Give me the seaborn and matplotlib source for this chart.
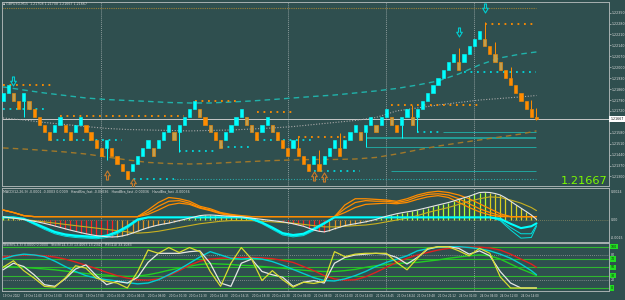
import numpy as np
import pandas as pd
import seaborn as sns
import matplotlib.pyplot as plt
from matplotlib.path import Path
from matplotlib.transforms import blended_transform_factory as blend

# ---------------- main chart: GBPUSD M15 renko bricks ----------------
bar_open = [1.21783, 1.21833, 1.21833, 1.21783, 1.21783, 1.21783, 1.21733, 1.21683, 1.21633, 1.21583,
            1.21583, 1.21633, 1.21633, 1.21583, 1.21583, 1.21633, 1.21633, 1.21583, 1.21533, 1.21483,
            1.21483, 1.21483, 1.21433, 1.21383, 1.21333, 1.21333, 1.21383, 1.21433, 1.21483, 1.21483,
            1.21483, 1.21533, 1.21583, 1.21583, 1.21583, 1.21633, 1.21683, 1.21733, 1.21733, 1.21683,
            1.21633, 1.21583, 1.21533, 1.21533, 1.21583, 1.21633, 1.21683, 1.21683, 1.21633, 1.21583,
            1.21583, 1.21633, 1.21633, 1.21583, 1.21533, 1.21483, 1.21483, 1.21483, 1.21433, 1.21383,
            1.21383, 1.21383, 1.21383, 1.21433, 1.21483, 1.21483, 1.21483, 1.21533, 1.21583, 1.21583,
            1.21583, 1.21633, 1.21633, 1.21633, 1.21683, 1.21683, 1.21633, 1.21633, 1.21683, 1.21683,
            1.21683, 1.21733, 1.21783, 1.21833, 1.21883, 1.21933, 1.21983, 1.22033, 1.22033, 1.22033,
            1.22083, 1.22133, 1.22183, 1.22183, 1.22133, 1.22083, 1.22033, 1.21983, 1.21933, 1.21883,
            1.21833, 1.21783, 1.21733, 1.21683]
bar_close = [1.21833, 1.21883, 1.21783, 1.21733, 1.21833, 1.21733, 1.21683, 1.21633, 1.21583, 1.21533,
             1.21633, 1.21683, 1.21583, 1.21533, 1.21633, 1.21683, 1.21583, 1.21533, 1.21483, 1.21433,
             1.21533, 1.21433, 1.21383, 1.21333, 1.21283, 1.21383, 1.21433, 1.21483, 1.21533, 1.21433,
             1.21533, 1.21583, 1.21633, 1.21533, 1.21633, 1.21683, 1.21733, 1.21783, 1.21683, 1.21633,
             1.21583, 1.21533, 1.21483, 1.21583, 1.21633, 1.21683, 1.21733, 1.21633, 1.21583, 1.21533,
             1.21633, 1.21683, 1.21583, 1.21533, 1.21483, 1.21433, 1.21533, 1.21433, 1.21383, 1.21333,
             1.21433, 1.21333, 1.21433, 1.21483, 1.21533, 1.21433, 1.21533, 1.21583, 1.21633, 1.21533,
             1.21633, 1.21683, 1.21583, 1.21683, 1.21733, 1.21633, 1.21583, 1.21683, 1.21733, 1.21633,
             1.21733, 1.21783, 1.21833, 1.21883, 1.21933, 1.21983, 1.22033, 1.22083, 1.21983, 1.22083,
             1.22133, 1.22183, 1.22233, 1.22133, 1.22083, 1.22033, 1.21983, 1.21933, 1.21883, 1.21833,
             1.21783, 1.21733, 1.21683, 1.21667]
mixed_bars = [2, 5, 29, 33, 38, 40, 42, 47, 48, 52, 69, 72, 75, 79, 88, 93, 95, 96]

up_wick_idx = [57, 61, 65, 79, 88, 93, 95, 98, 102, 103]
up_wick_px = [1.21553, 1.21470, 1.21579, 1.21758, 1.22122, 1.22290, 1.22162, 1.22002, 1.21790, 1.21739]
lo_wick_idx = [4, 20, 34, 70, 77, 80, 103]
lo_wick_px = [1.21681, 1.21406, 1.21457, 1.21489, 1.21546, 1.21585, 1.21660]

# moving averages, sampled every 4 bricks
ma_idx = list(range(0, 101, 4)) + [103]
ma_teal = [1.21874, 1.21854, 1.21835, 1.21819, 1.21803, 1.21793, 1.21787, 1.21781, 1.21774, 1.21771,
           1.21771, 1.21777, 1.21784, 1.21793, 1.21803, 1.21813, 1.21822, 1.21835, 1.21848, 1.21864,
           1.21886, 1.21912, 1.21957, 1.22015, 1.22060, 1.22085, 1.22098]
ma_grey = [1.21675, 1.21662, 1.21646, 1.21633, 1.21620, 1.21608, 1.21601, 1.21598, 1.21595, 1.21592,
           1.21595, 1.21598, 1.21604, 1.21611, 1.21620, 1.21633, 1.21646, 1.21659, 1.21678, 1.21720,
           1.21739, 1.21758, 1.21774, 1.21790, 1.21800, 1.21810, 1.21819]
ma_brown = [1.21483, 1.21476, 1.21467, 1.21457, 1.21444, 1.21425, 1.21406, 1.21390, 1.21383, 1.21380,
            1.21383, 1.21390, 1.21396, 1.21402, 1.21406, 1.21409, 1.21409, 1.21412, 1.21422, 1.21444,
            1.21470, 1.21495, 1.21515, 1.21534, 1.21553, 1.21572, 1.21592]

# resistance / support dots (level, first brick, last brick)
res_level = [1.21886, 1.21688, 1.21784, 1.21715, 1.21555, 1.21758, 1.22277]
res_start = [0, 11, 37, 49, 57, 75, 93]
res_end = [10, 35, 45, 56, 67, 92, 103]
sup_level = [1.21733, 1.21534, 1.21284, 1.21463, 1.21487, 1.21534, 1.21335, 1.21585, 1.21970]
sup_start = [0, 9, 24, 34, 42, 49, 60, 80, 89]
sup_end = [8, 23, 33, 41, 48, 60, 69, 85, 103]
band_level = [1.21585, 1.21549, 1.21489, 1.21335]
band_start = [85, 70, 70, 75]
top_level = 1.22380
low_level = 1.21284
current_price = 1.21667

sell_idx = [2, 88, 93]
sell_px = [1.21915, 1.22223, 1.22377]
buy_idx = [20, 25, 60, 62]
buy_px = [1.21310, 1.21261, 1.21306, 1.21297]

price_ticks = [1.21300, 1.21370, 1.21440, 1.21510, 1.21580, 1.21720, 1.21790,
               1.21860, 1.21930, 1.22000, 1.22070, 1.22140, 1.22210, 1.22280, 1.22350]
sep_idx = [19, 55, 74, 91]

# ---------------- MACD panel (pips) ----------------
macd_main = [2.5, 2.0, 1.5, 1.0, 0.4, -0.3, -1.0, -1.8, -2.7, -3.7,
             -4.8, -5.9, -7.0, -8.1, -9.1, -10.1, -11.0, -11.8, -12.5, -13.0,
             -13.4, -13.6, -13.4, -12.8, -11.8, -10.5, -9.0, -7.5, -6.1, -5.0,
             -4.0, -3.2, -2.5, -1.5, -0.5, 0.5, 1.5, 2.5, 3.5, 3.9,
             4.0, 3.8, 3.5, 3.2, 3.0, 2.8, 2.5, 2.0, 1.5, 1.0,
             0.5, 0.0, -0.5, -1.0, -1.5, -2.2, -3.0, -4.0, -5.0, -6.5,
             -8.0, -9.0, -9.5, -8.5, -7.0, -5.8, -4.5, -3.7, -3.0, -2.2,
             -1.5, -0.5, 0.5, 1.8, 3.0, 4.0, 5.0, 5.8, 6.5, 7.2,
             8.0, 9.0, 10.0, 11.0, 12.0, 13.0, 14.0, 15.2, 16.5, 17.8,
             19.0, 20.5, 22.0, 22.2, 22.0, 21.2, 20.0, 17.8, 15.0, 12.2,
             9.5, 6.8, 4.0, 0.5]

osc_idx = list(range(0, 103, 2)) + [103]
macd_signal = [2.5, 1.5, 0.5, -0.5, -1.5, -2.5, -3.5, -4.5, -5.5, -6.5,
               -7.5, -8.5, -9.5, -10.5, -10, -9, -7.5, -6, -4.5, -3,
               -2, -1, -0.5, -0.5, -0.5, -1, -1.5, -2, -2.5, -3.5,
               -4.5, -5.5, -5.5, -5, -4.5, -4, -3, -1.5, 0, 1.5,
               3.5, 6, 8, 10, 12.5, 15, 17, 18.5, 18, 16,
               13.5, 10, 7.5]
hb_cyan_a = [2.1, 2.1, 1, -2.5, -6, -9.5, -11.5, -12.5, -13, -13.5,
             -12.5, -9.5, -5, 0.5, 2.1, 2.1, 2.1, 2.1, 2.1, 2.1,
             2.1, 2.1, 2.1, 2.1, 1, -2, -6, -10.5, -12, -11,
             -7, -2.5, 2.1, 2.1, 2.1, 2.1, 2.1, 2.1, 2.1, 2.1,
             2.1, 2.1, 2.1, 2.1, 2.1, 2.1, 2.1, 2.1, 1, -3,
             -6.5, -5, -2.7]
hb_cyan_b = [2.1, 2.1, 0.5, -3.5, -7.5, -11, -13, -14, -14.5, -15,
             -14, -11, -6.5, -0.5, 2.1, 2.1, 2.1, 2.1, 2.1, 2.1,
             2.1, 2.1, 2.1, 2.1, 0.5, -3, -7.5, -12, -13.5, -12.5,
             -8.5, -3.5, 2.1, 2.1, 2.1, 2.1, 2.1, 2.1, 2.1, 2.1,
             2.1, 2.1, 2.1, 2.1, 2.1, 2.1, 2.1, 2.1, 0, -6,
             -11, -11, -4]
hb_cyan_c = [2.1, 2.1, 0.8, -3, -6.8, -10.2, -12.2, -13.2, -13.8, -14.2,
             -13.2, -10.2, -5.8, 0, 2.1, 2.1, 2.1, 2.1, 2.1, 2.1,
             2.1, 2.1, 2.1, 2.1, 0.8, -2.5, -6.8, -11.2, -12.8, -11.8,
             -7.8, -3, 2.1, 2.1, 2.1, 2.1, 2.1, 2.1, 2.1, 2.1,
             2.1, 2.1, 2.1, 2.1, 2.1, 2.1, 2.1, 2.1, -0.5, -8,
             -14.5, -14, -5]
hb_orange_a = [8, 6, 3.5, 2.7, 2.7, 2.7, 2.7, 2.7, 2.7, 2.7,
               2.7, 2.7, 2.7, 2.7, 8, 14, 18, 17, 15, 11,
               9, 6, 4.5, 3.5, 2.7, 2.7, 2.7, 2.7, 2.7, 2.7,
               2.7, 2.7, 2.7, 12, 17, 17, 16.5, 16, 15, 17,
               20, 22, 23, 22, 20, 17, 13, 9, 5, 2.7,
               2.7, 2.7, 2.7]
hb_orange_b = [8, 6, 3.5, 2.7, 2.7, 2.7, 2.7, 2.7, 2.7, 2.7,
               2.7, 2.7, 2.7, 2.7, 6, 11, 15, 15.5, 13.5, 10,
               8, 5.5, 4, 3, 2.7, 2.7, 2.7, 2.7, 2.7, 2.7,
               2.7, 2.7, 2.7, 9, 14, 15.5, 15, 15, 14, 15.5,
               18.5, 20.5, 21, 20, 17, 13, 9, 6, 3.5, 2.7,
               2.7, 2.7, 2.7]
hb_orange_c = [8, 6, 3.5, 2.7, 2.7, 2.7, 2.7, 2.7, 2.7, 2.7,
               2.7, 2.7, 2.7, 2.7, 4.5, 8, 12, 13.5, 12.5, 9.5,
               7.5, 5, 3.5, 2.7, 2.7, 2.7, 2.7, 2.7, 2.7, 2.7,
               2.7, 2.7, 2.7, 6, 10, 12.5, 13, 13.5, 13, 14,
               16.5, 18.5, 19.5, 18, 14, 10, 6.5, 4, 2.7, 2.7,
               2.7, 2.7, 2.7]

# ---------------- oscillator panel (0-100) ----------------
rsi_slow = [75, 78, 80, 80, 78, 75, 70, 63, 55, 47,
            38, 30, 24, 20, 19, 22, 30, 42, 55, 65,
            70, 72, 73, 74, 74, 73, 71, 67, 62, 52,
            42, 30, 22, 19, 20, 27, 38, 50, 62, 72,
            80, 86, 92, 96, 98, 99, 99, 97, 92, 82,
            70, 58, 50]
osc_cyan = [70, 78, 82, 80, 76, 65, 52, 40, 30, 24,
            20, 17, 13, 10, 12, 20, 32, 45, 60, 75,
            88, 80, 72, 70, 72, 70, 64, 55, 45, 35,
            25, 18, 17, 22, 30, 40, 52, 62, 70, 78,
            90, 95, 99, 100, 100, 98, 95, 90, 82, 72,
            58, 42, 32]
osc_green = [52, 51, 50, 48, 46, 44, 41, 38, 35, 33,
             31, 29, 28, 29, 32, 37, 43, 48, 53, 57,
             59, 58, 57, 55, 54, 52, 50, 48, 45, 43,
             41, 40, 40, 42, 45, 50, 54, 57, 59, 61,
             62, 65, 68, 72, 75, 78, 80, 78, 70, 58,
             46, 36, 30]
stoch_white = [44, 60, 52, 32, 8, 4, 22, 46, 56, 30,
               8, 16, 12, 26, 62, 84, 84, 84, 88, 90,
               60, 12, 4, 60, 70, 40, 32, 26, 4, 14,
               18, 12, 60, 74, 80, 82, 84, 82, 74, 58,
               74, 94, 100, 100, 96, 82, 90, 78, 40, 12,
               0, 0, 0]
stoch_yellow = [50, 66, 42, 24, 4, 2, 24, 54, 48, 24,
                16, 12, 0, 40, 92, 84, 98, 86, 98, 88,
                40, 4, 60, 98, 70, 18, 42, 20, 2, 14,
                11, 16, 88, 76, 82, 84, 84, 84, 62, 44,
                72, 96, 100, 100, 90, 78, 96, 84, 27, 0,
                0, 0, 0]
osc_levels = [100, 70, 50, 30, 0]
osc_dotted = [80, 20]

time_idx = list(range(0, 101, 4))
time_labels = ["19 Oct 2022", "19 Oct 11:00", "19 Oct 13:00", "19 Oct 15:00", "19 Oct 17:00",
               "20 Oct 00:30", "20 Oct 04:15", "20 Oct 08:00", "20 Oct 10:30", "20 Oct 12:30",
               "20 Oct 14:30", "20 Oct 16:15", "20 Oct 18:30", "20 Oct 21:30", "21 Oct 04:00",
               "21 Oct 08:00", "21 Oct 11:00", "21 Oct 14:00", "21 Oct 16:45", "21 Oct 18:24",
               "21 Oct 19:48", "21 Oct 21:12", "24 Oct 01:00", "24 Oct 04:00", "24 Oct 12:00",
               "24 Oct 14:00"]

# ---------------- styling ----------------
BG = "#2f4f4f"
CYAN = "#00ffff"
ORANGE = "#ff8c00"
OLIVE = "#c0a050"
FG = "#dcdcdc"
TINY = 2.3

sns.set_style("dark", {"axes.facecolor": BG, "figure.facecolor": BG,
                       "axes.edgecolor": "#a7b1b1", "axes.grid": False})

fig = plt.figure(figsize=(6.25, 3), dpi=100)
fig.patch.set_facecolor(BG)
L, W = 2 / 625, 607 / 625
ax1 = fig.add_axes([L, 114 / 300, W, 184 / 300])
ax2 = fig.add_axes([L, 58 / 300, W, 54 / 300], sharex=ax1)
ax3 = fig.add_axes([L, 9 / 300, W, 48 / 300], sharex=ax1)

for ax in (ax1, ax2, ax3):
    ax.set_facecolor(BG)
    for s in ax.spines.values():
        s.set_color("#a7b1b1")
        s.set_linewidth(0.7)
    ax.set_xlim(-0.2, 117)
    ax.tick_params(axis="both", length=1.2, width=0.4, colors=FG, labelsize=TINY, pad=1)
    for k in sep_idx:
        ax.axvline(k, color="#8a9a9a", lw=0.7, ls=(0, (1, 1)), zorder=1)
ax1.tick_params(labelbottom=False, bottom=False)
ax2.tick_params(labelbottom=False, bottom=False)

# ---- main chart ----
ax1.set_ylim(1.21239, 1.22418)
idx = np.arange(len(bar_open))
bars = pd.DataFrame({"open": bar_open, "close": bar_close}, index=idx)
up = bars["close"] >= bars["open"]
edge = np.where(up, CYAN, ORANGE)
face = edge.copy()
face[mixed_bars] = OLIVE

ax1.hlines(top_level, -0.2, 103, color="#9a8038", lw=0.8, ls=(0, (1, 1)), zorder=2)
ax1.hlines(low_level, 33, 103, color="#2aa8a8", lw=0.8, ls=(0, (1, 1.5)), zorder=2)
ax1.axhline(current_price, color="#c8c8c8", lw=0.7, zorder=2)
for lv, st in zip(band_level, band_start):
    ax1.hlines(lv, st, 103, color="#20b2aa", lw=1.1 if lv == band_level[1] else 0.6, zorder=2)

sns.lineplot(x=ma_idx, y=ma_teal, ax=ax1, color="#20b2aa", lw=1.0, ls=(0, (4, 3)), zorder=3)
sns.lineplot(x=ma_idx, y=ma_grey, ax=ax1, color="#a9a9a9", lw=0.8, ls=(0, (1, 1.5)), zorder=3)
sns.lineplot(x=ma_idx, y=ma_brown, ax=ax1, color="#a0782a", lw=1.0, ls=(0, (4, 3)), zorder=3)

for lv, a, b in zip(res_level, res_start, res_end):
    ax1.hlines(lv, a, b, color=ORANGE, lw=1.3, ls=(0, (1, 2.6)), zorder=3)
for lv, a, b in zip(sup_level, sup_start, sup_end):
    ax1.hlines(lv, a, b, color="#00d8dc", lw=1.3, ls=(0, (1, 2.6)), zorder=3)

body_top = bars[["open", "close"]].max(axis=1).to_numpy()
body_bot = bars[["open", "close"]].min(axis=1).to_numpy()
ax1.vlines(up_wick_idx, body_top[up_wick_idx], up_wick_px, colors=edge[up_wick_idx], lw=0.7, zorder=4)
ax1.vlines(lo_wick_idx, lo_wick_px, body_bot[lo_wick_idx], colors=edge[lo_wick_idx], lw=0.7, zorder=4)
ax1.bar(idx, bars["close"] - bars["open"], bottom=bars["open"], width=0.62,
        color=face, edgecolor=edge, linewidth=0.4, zorder=5)

down_arrow = Path([(-0.22, 1), (0.22, 1), (0.22, 0.05), (0.62, 0.05), (0, -1),
                   (-0.62, 0.05), (-0.22, 0.05), (-0.22, 1)], closed=True)
up_arrow = Path([(x, -y) for x, y in down_arrow.vertices], closed=True)
ax1.plot(sell_idx, sell_px, ls="none", marker=down_arrow, ms=6.5, mfc="none",
         mec="#00ced1", mew=0.8, zorder=6)
ax1.plot(buy_idx, buy_px, ls="none", marker=up_arrow, ms=6.5, mfc="none",
         mec="#c87a2a", mew=0.8, zorder=6)

ax1.yaxis.tick_right()
ax1.set_yticks(price_ticks, labels=[f"{p:.5f}" for p in price_ticks])
ax1.set_ylabel("")
tr1 = blend(ax1.transAxes, ax1.transData)
ax1.text(1.002, current_price, f"{current_price:.5f}", transform=tr1, fontsize=TINY,
         color="#111111", va="center", ha="left",
         bbox=dict(boxstyle="square,pad=0.25", fc="white", ec="none"), zorder=10, clip_on=False)
fig.text(607 / 625, 1 - 181.5 / 300, f"{current_price:.5f}", color="#7cfc00",
         fontsize=8.2, ha="right", va="center")
fig.text(3 / 625, 1 - 4 / 300, "\u25aa GBPUSD,M15  1.21708 1.21708 1.21667 1.21667",
         color=FG, fontsize=TINY, va="center")

# ---- MACD panel ----
ax2.set_ylim(-17.6, 25.6)
macd = np.array(macd_main)
prev = np.r_[macd[0], macd[:-1]]
hist_col = np.where(macd >= 0,
                    np.where(macd >= prev, "#adff2f", "#d8d020"),
                    np.where(macd < prev, "#ff2020", "#e09020"))
ax2.axhline(0, color="#8a8a60", lw=0.6, ls=(0, (1, 1.5)), zorder=1)
ax2.vlines(idx, 0, macd, colors=hist_col, lw=0.9, zorder=2)
sns.lineplot(x=osc_idx, y=macd_signal, ax=ax2, color="#c8b020", lw=0.8, zorder=3)
for ser in (hb_orange_a, hb_orange_b, hb_orange_c):
    sns.lineplot(x=osc_idx, y=ser, ax=ax2, color=ORANGE, lw=0.9, zorder=3)
sns.lineplot(x=osc_idx, y=hb_cyan_b, ax=ax2, color="#00e0e0", lw=0.7, zorder=4)
sns.lineplot(x=osc_idx, y=hb_cyan_c, ax=ax2, color="#00e0e0", lw=0.7, zorder=4)
sns.lineplot(x=osc_idx, y=hb_cyan_a, ax=ax2, color="#00ffff", lw=1.5, zorder=4)
sns.lineplot(x=idx, y=macd, ax=ax2, color="#e6e6e6", lw=0.8, zorder=5)
ax2.set_yticks([])
ax2.set_ylabel("")
tr2 = blend(ax2.transAxes, ax2.transData)
for v, s in [(22.7, "0.0024"), (0, "0.00"), (-14.7, "-0.0015")]:
    ax2.text(1.003, v, s, transform=tr2, fontsize=TINY, color=FG, va="center", clip_on=False)
fig.text(3 / 625, 1 - 191 / 300,
         "MACD(12,26,9) -0.0001 -0.0003 0.0009   HandBra_fast -0.00036   "
         "HandBra_fast -0.00036   HandBra_fast -0.00036", color=FG, fontsize=TINY, va="center")

# ---- oscillator panel ----
ax3.set_ylim(-7.3, 109)
for lv in osc_levels:
    ax3.axhline(lv, color="#2fb82f", lw=0.8, zorder=1)
for lv in osc_dotted:
    ax3.axhline(lv, color="#9a9a9a", lw=0.6, ls=(0, (1, 1.5)), zorder=1)
sns.lineplot(x=osc_idx, y=osc_green, ax=ax3, color="#22cc22", lw=1.0, zorder=3)
sns.lineplot(x=osc_idx, y=rsi_slow, ax=ax3, color="#e02020", lw=1.0, zorder=3)
sns.lineplot(x=osc_idx, y=osc_cyan, ax=ax3, color="#00ced1", lw=1.0, zorder=3)
sns.lineplot(x=osc_idx, y=stoch_white, ax=ax3, color="#e6e6e6", lw=0.9, zorder=4)
sns.lineplot(x=osc_idx, y=stoch_yellow, ax=ax3, color="#d8dc30", lw=0.9, zorder=4)
ax3.set_yticks([])
ax3.set_ylabel("")
tr3 = blend(ax3.transAxes, ax3.transData)
for lv in osc_levels:
    ax3.text(1.003, lv, f"{lv}", transform=tr3, fontsize=TINY, color="#0a2a0a", va="center",
             bbox=dict(boxstyle="square,pad=0.2", fc="#22dd22", ec="none"), clip_on=False)
for lv in osc_dotted:
    ax3.text(1.003, lv, f"{lv}", transform=tr3, fontsize=TINY, color=FG, va="center", clip_on=False)
fig.text(3 / 625, 1 - 245 / 300,
         "Stoch(5,3,3) 0.0000 0.0000   Stoch(14,3,3) 13.4063 13.2341   RSI(14) 33.1083",
         color=FG, fontsize=TINY, va="center")

ax3.set_xticks(time_idx, labels=time_labels)
ax3.tick_params(axis="x", labelsize=2.0)
for t in ax3.get_xticklabels():
    t.set_ha("left")
ax3.set_xlabel("")

fig.savefig("out.png", dpi=100, facecolor=BG)
